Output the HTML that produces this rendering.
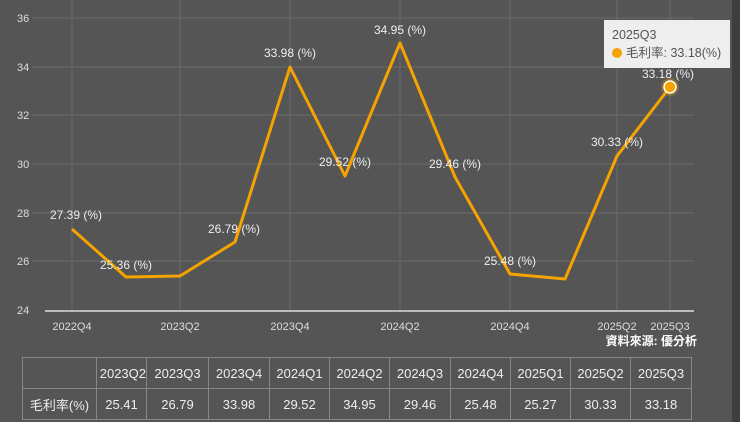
<!DOCTYPE html>
<html><head><meta charset="utf-8"><style>
body{margin:0;width:740px;height:422px;background:#555;overflow:hidden;font-family:"Liberation Sans","Noto Sans CJK TC",sans-serif;position:relative}
.strip{position:absolute;left:732px;top:0;width:8px;height:422px;background:#3e3e3e}
table{position:absolute;left:22px;top:357px;border-collapse:collapse;color:#eee;font-size:13px}
td{border:1px solid #888;height:30px;text-align:center;padding:0;overflow:hidden;white-space:nowrap}
.tip{position:absolute;left:604px;top:20px;width:126px;height:48px;background:#eee;color:#555;font-size:12.5px;box-sizing:border-box;padding:6px 8px;line-height:18px}
.dot{display:inline-block;width:10px;height:10px;border-radius:5px;background:#f5a300;margin-right:4px;vertical-align:-1px}
</style></head><body>
<div class="strip"></div>
<svg width="740" height="422" style="position:absolute;left:0;top:0">
<g stroke="#6a6a6a" stroke-width="1">
<line x1="32" y1="18" x2="694" y2="18"/><line x1="32" y1="67" x2="694" y2="67"/><line x1="32" y1="115" x2="694" y2="115"/><line x1="32" y1="164" x2="694" y2="164"/><line x1="32" y1="213" x2="694" y2="213"/><line x1="32" y1="261" x2="694" y2="261"/>
<line x1="72" y1="0" x2="72" y2="310"/><line x1="180" y1="0" x2="180" y2="310"/><line x1="290" y1="0" x2="290" y2="310"/><line x1="400" y1="0" x2="400" y2="310"/><line x1="510" y1="0" x2="510" y2="310"/><line x1="617" y1="0" x2="617" y2="310"/><line x1="670" y1="0" x2="670" y2="310"/>
</g>
<line x1="45" y1="311" x2="694" y2="311" stroke="#bbb" stroke-width="2"/>
<g fill="#ddd" font-size="11">
<text x="17" y="22">36</text><text x="17" y="71">34</text><text x="17" y="119">32</text><text x="17" y="168">30</text><text x="17" y="217">28</text><text x="17" y="265">26</text><text x="17" y="314">24</text>
</g>
<g fill="#ddd" font-size="11" text-anchor="middle">
<text x="72" y="330">2022Q4</text><text x="180" y="330">2023Q2</text><text x="290" y="330">2023Q4</text><text x="400" y="330">2024Q2</text><text x="510" y="330">2024Q4</text><text x="617" y="330">2025Q2</text><text x="670" y="330">2025Q3</text>
</g>
<text x="697" y="345" fill="#fff" font-size="12" font-weight="bold" text-anchor="end">資料來源: 優分析</text>
<polyline fill="none" stroke="#f5a300" stroke-width="3" stroke-linejoin="round" points="72,229 126,277 180,276 235,242 290,67 345,176 400,43 455,177 510,274 565,279 617,156 670,87"/>
<circle cx="670" cy="87" r="9" fill="rgba(245,163,0,0.3)"/>
<circle cx="670" cy="87" r="6" fill="#f5a300" stroke="#fff" stroke-width="1.5"/>
<g fill="#eee" font-size="12" text-anchor="middle">
<text x="76" y="219">27.39 (%)</text><text x="126" y="269">25.36 (%)</text><text x="234" y="233">26.79 (%)</text><text x="290" y="57">33.98 (%)</text><text x="345" y="166">29.52 (%)</text><text x="400" y="34">34.95 (%)</text><text x="455" y="168">29.46 (%)</text><text x="510" y="265">25.48 (%)</text><text x="617" y="146">30.33 (%)</text><text x="668" y="78">33.18 (%)</text>
</g>
</svg>
<div class="tip">2025Q3<br><span class="dot"></span>毛利率: 33.18(%)</div>
<table>
<tr><td style="width:73px"></td><td style="width:49px;text-align:right">2023Q2</td><td style="width:61px">2023Q3</td><td style="width:60px">2023Q4</td><td style="width:59px">2024Q1</td><td style="width:59px">2024Q2</td><td style="width:60px">2024Q3</td><td style="width:59px">2024Q4</td><td style="width:59px">2025Q1</td><td style="width:59px">2025Q2</td><td style="width:60px">2025Q3</td></tr>
<tr><td>毛利率(%)</td><td>25.41</td><td>26.79</td><td>33.98</td><td>29.52</td><td>34.95</td><td>29.46</td><td>25.48</td><td>25.27</td><td>30.33</td><td>33.18</td></tr>
</table>
</body></html>
